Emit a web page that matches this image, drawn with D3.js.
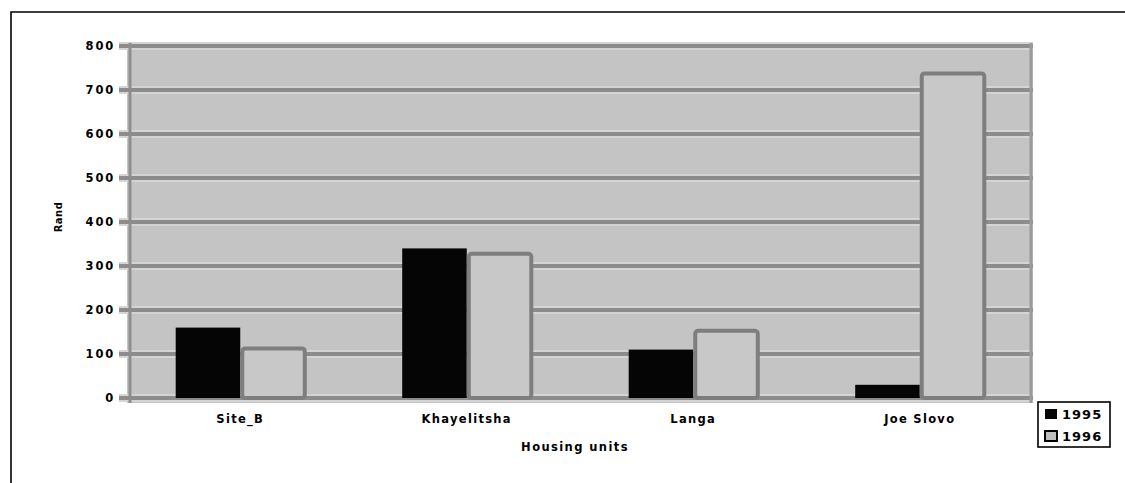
<!DOCTYPE html>
<html>
<head>
<meta charset="utf-8">
<script src="https://cdn.jsdelivr.net/npm/d3@7"></script>
<style>
  body { margin: 0; background: #fff; }
  text { font-family: "DejaVu Sans", sans-serif; font-weight: bold; fill: #000; }
</style>
</head>
<body>
<div id="chart"></div>
<script>
// data
const categories = ["Site_B", "Khayelitsha", "Langa", "Joe Slovo"];
const values1995 = [160, 340, 110, 30];
const values1996 = [115, 330, 155, 740];
const seriesNames = ["1995", "1996"];
const yTicks = [0, 100, 200, 300, 400, 500, 600, 700, 800];

const W = 1125, H = 483;
const margin = { top: 46, left: 127, right: 92, bottom: 85 };
const plotW = W - margin.left - margin.right,
  plotH = H - margin.top - margin.bottom;

const svg = d3.select("#chart").append("svg")
  .attr("width", W).attr("height", H);

// outer page frame (runs off the right and bottom edges)
svg.append("path")
  .attr("d", "M11," + (H + 5) + " L11,12 L" + (W + 5) + ",12")
  .attr("fill", "none").attr("stroke", "#000").attr("stroke-width", 1.6);

const g = svg.append("g")
  .attr("transform", "translate(" + margin.left + "," + margin.top + ")");

const x = d3.scaleBand()
  .domain(categories)
  .range([0, plotW])
  .paddingInner(0.43)
  .paddingOuter(0.215);

const xs = d3.scaleBand()
  .domain(seriesNames)
  .range([0, x.bandwidth()]);

const y = d3.scaleLinear().domain([0, 800]).range([plotH, 0]);

// plot background
g.append("rect")
  .attr("x", 0).attr("y", -3)
  .attr("width", plotW).attr("height", plotH + 8)
  .attr("fill", "#c4c4c4");

// gridlines with light halo
const grid = g.append("g");
grid.selectAll("line.halo")
  .data(yTicks).enter().append("line")
  .attr("x1", -8).attr("x2", plotW)
  .attr("y1", d => y(d)).attr("y2", d => y(d))
  .attr("stroke", "#d4d4d4").attr("stroke-width", 8);
grid.selectAll("line.main")
  .data(yTicks).enter().append("line")
  .attr("x1", -8).attr("x2", plotW)
  .attr("y1", d => y(d)).attr("y2", d => y(d))
  .attr("stroke", "#8c8c8c").attr("stroke-width", 4);

// left and right frame of plot
g.append("line").attr("x1", 3).attr("x2", 3)
  .attr("y1", -3).attr("y2", plotH + 5)
  .attr("stroke", "#8e8e8e").attr("stroke-width", 3);
g.append("line").attr("x1", plotW - 2).attr("x2", plotW - 2)
  .attr("y1", -3).attr("y2", plotH + 5)
  .attr("stroke", "#9a9a9a").attr("stroke-width", 3);

// bars
const groups = g.selectAll("g.cat")
  .data(categories).enter().append("g")
  .attr("transform", d => "translate(" + x(d) + ",0)");

groups.append("rect")
  .attr("x", xs("1995"))
  .attr("y", (d, i) => y(values1995[i]))
  .attr("width", xs.bandwidth())
  .attr("height", (d, i) => y(0) - y(values1995[i]))
  .attr("fill", "#050505");

groups.append("rect")
  .attr("x", xs("1996") + 2)
  .attr("y", (d, i) => y(values1996[i]) + 1)
  .attr("width", xs.bandwidth() - 2)
  .attr("height", (d, i) => y(0) - y(values1996[i]) - 1)
  .attr("rx", 3)
  .attr("fill", "#c8c8c8")
  .attr("stroke", "#7e7e7e").attr("stroke-width", 4);

// y axis labels
const yAxis = g.append("g")
  .attr("transform", "translate(-10,0)")
  .call(d3.axisLeft(y).tickValues(yTicks).tickSize(0).tickPadding(2));
yAxis.select(".domain").remove();
yAxis.selectAll("text")
  .style("font-size", "11.5px")
  .style("letter-spacing", "1.8px")
  .style("font-family", "'DejaVu Sans', sans-serif")
  .attr("fill", "#000");

// x axis labels
const xAxis = g.append("g")
  .attr("transform", "translate(0," + plotH + ")")
  .call(d3.axisBottom(x).tickSize(0).tickPadding(17));
xAxis.select(".domain").remove();
xAxis.selectAll("text")
  .style("font-size", "11.5px")
  .style("letter-spacing", "1.3px")
  .style("font-family", "'DejaVu Sans', sans-serif")
  .attr("fill", "#000");

// axis titles
svg.append("text")
  .attr("transform", "translate(62,217) rotate(-90)")
  .attr("text-anchor", "middle")
  .style("font-size", "10px")
  .style("letter-spacing", "0.5px")
  .text("Rand");

svg.append("text")
  .attr("x", 575).attr("y", 451)
  .attr("text-anchor", "middle")
  .style("font-size", "11.5px")
  .style("letter-spacing", "1.4px")
  .text("Housing units");

// legend
const lg = svg.append("g").attr("transform", "translate(1038,402)");
lg.append("rect")
  .attr("width", 72).attr("height", 45)
  .attr("fill", "#fff").attr("stroke", "#000").attr("stroke-width", 1.6);
const items = lg.selectAll("g.item")
  .data(seriesNames).enter().append("g")
  .attr("transform", (d, i) => "translate(7," + (7 + i * 22) + ")");
items.append("rect")
  .attr("width", 12).attr("height", 10)
  .attr("fill", (d, i) => i === 0 ? "#050505" : "#bdbdbd")
  .attr("stroke", "#000").attr("stroke-width", (d, i) => i === 0 ? 0 : 2);
items.append("text")
  .attr("x", 17).attr("y", 10)
  .style("font-size", "13px")
  .style("letter-spacing", "1px")
  .text(d => d);
</script>
</body>
</html>
